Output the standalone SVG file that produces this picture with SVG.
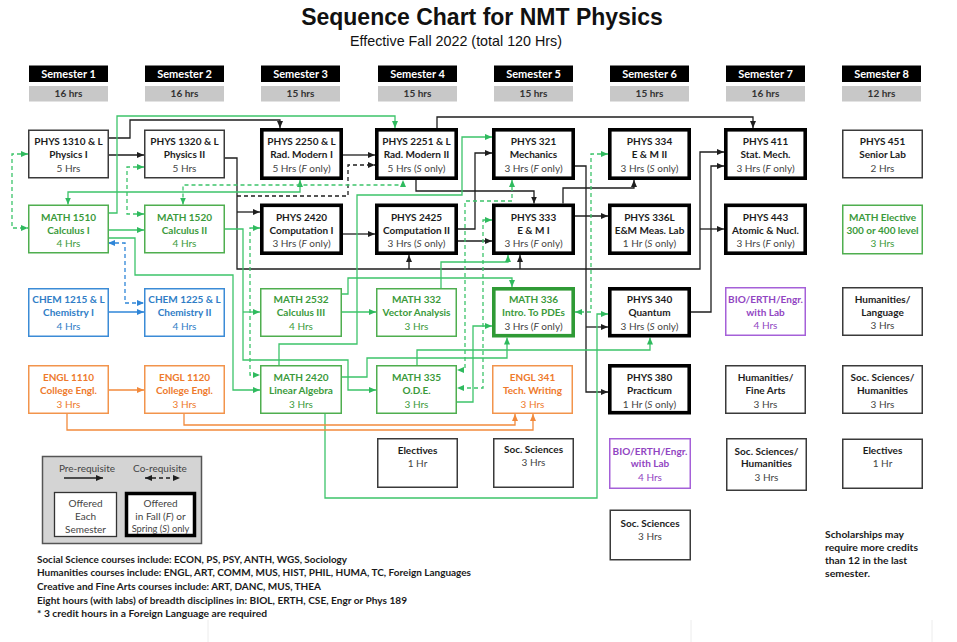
<svg xmlns="http://www.w3.org/2000/svg" width="957" height="642" viewBox="0 0 957 642">
<style>
text{font-family:Lato,"Liberation Sans",Arial,sans-serif;font-size:10px;text-anchor:middle}
.b{font-weight:700}
.k{fill:#1c1c1c}
.h{fill:#444}
.g{fill:#3b9a3b}
.bl{fill:#2f7dc6}
.o{fill:#ee7a2c}
.p{fill:#9145c2}
.i{font-style:italic}
rect.n{fill:#fff;stroke:#3a3a3a;stroke-width:1.5}
rect.x{fill:#fff;stroke:#000;stroke-width:3.6}
rect.gn{stroke:#4fae4f}
rect.bn{stroke:#3b8bd6}
rect.on{stroke:#f2944c}
rect.pn{stroke:#a560d8}
rect.gx{stroke:#2f9a35}
rect.sh{fill:#000}
rect.sg{fill:#c8c8c8}
text.st{fill:#fff;font-weight:700;font-size:11px}
text.sh2{fill:#333;font-weight:700}
.c path{fill:none;stroke-width:1.3}
.k1{stroke:#1e1e1e}
.g1{stroke:#3cc46a}
.b1{stroke:#2f86d8}
.o1{stroke:#f28a3c}
.d{stroke-dasharray:4 3}
.note{text-anchor:start;font-weight:700;fill:#1a1a1a}
</style>
<defs>
<marker id="ak" markerUnits="userSpaceOnUse" markerWidth="7" markerHeight="6" refX="7" refY="3" orient="auto-start-reverse"><path d="M0,0 L7,3 L0,6 z" fill="#1e1e1e"/></marker>
<marker id="ag" markerUnits="userSpaceOnUse" markerWidth="7" markerHeight="6" refX="7" refY="3" orient="auto-start-reverse"><path d="M0,0 L7,3 L0,6 z" fill="#2fba5e"/></marker>
<marker id="ab" markerUnits="userSpaceOnUse" markerWidth="7" markerHeight="6" refX="7" refY="3" orient="auto-start-reverse"><path d="M0,0 L7,3 L0,6 z" fill="#2f86d8"/></marker>
<marker id="ao" markerUnits="userSpaceOnUse" markerWidth="7" markerHeight="6" refX="7" refY="3" orient="auto-start-reverse"><path d="M0,0 L7,3 L0,6 z" fill="#f28a3c"/></marker>
</defs>
<rect width="957" height="642" fill="#fff"/>

<g id="title">
<text x="482" y="25" style="font-family:'Liberation Sans',Arial,sans-serif;font-size:23px;font-weight:700;fill:#111">Sequence Chart for NMT Physics</text>
<text x="456" y="46" style="font-family:'Liberation Sans',Arial,sans-serif;font-size:14.3px;fill:#111">Effective Fall 2022 (total 120 Hrs)</text>
</g>

<g id="semesters">
<rect class="sh" x="29" y="65.5" width="79" height="16.5"/><rect class="sg" x="29" y="86" width="79" height="15.5"/><text class="st" x="68.5" y="77.5">Semester 1</text><text class="sh2" x="68.5" y="97">16 hrs</text>
<rect class="sh" x="145" y="65.5" width="79" height="16.5"/><rect class="sg" x="145" y="86" width="79" height="15.5"/><text class="st" x="184.5" y="77.5">Semester 2</text><text class="sh2" x="184.5" y="97">16 hrs</text>
<rect class="sh" x="261" y="65.5" width="79" height="16.5"/><rect class="sg" x="261" y="86" width="79" height="15.5"/><text class="st" x="300.5" y="77.5">Semester 3</text><text class="sh2" x="300.5" y="97">15 hrs</text>
<rect class="sh" x="378" y="65.5" width="79" height="16.5"/><rect class="sg" x="378" y="86" width="79" height="15.5"/><text class="st" x="417.5" y="77.5">Semester 4</text><text class="sh2" x="417.5" y="97">15 hrs</text>
<rect class="sh" x="494" y="65.5" width="79" height="16.5"/><rect class="sg" x="494" y="86" width="79" height="15.5"/><text class="st" x="533.5" y="77.5">Semester 5</text><text class="sh2" x="533.5" y="97">15 hrs</text>
<rect class="sh" x="610" y="65.5" width="79" height="16.5"/><rect class="sg" x="610" y="86" width="79" height="15.5"/><text class="st" x="649.5" y="77.5">Semester 6</text><text class="sh2" x="649.5" y="97">15 hrs</text>
<rect class="sh" x="726" y="65.5" width="79" height="16.5"/><rect class="sg" x="726" y="86" width="79" height="15.5"/><text class="st" x="765.5" y="77.5">Semester 7</text><text class="sh2" x="765.5" y="97">16 hrs</text>
<rect class="sh" x="842" y="65.5" width="79" height="16.5"/><rect class="sg" x="842" y="86" width="79" height="15.5"/><text class="st" x="881.5" y="77.5">Semester 8</text><text class="sh2" x="881.5" y="97">12 hrs</text>
</g>

<g id="connectors" class="c">
<!-- black prerequisites -->
<path class="k1" d="M108,155 H144" marker-end="url(#ak)"/>
<path class="k1" d="M108,138 H130 V120 H280 V128" marker-end="url(#ak)"/>
<path class="k1" d="M225,158 H237 V269 H700 V152 H724" marker-end="url(#ak)"/>
<path class="k1" d="M237,212 H260" marker-end="url(#ak)"/>
<path class="k1" d="M409,269 V255" marker-end="url(#ak)"/>
<path class="k1" d="M520,269 V255" marker-end="url(#ak)"/>
<path class="k1" d="M700,229 H724" marker-end="url(#ak)"/>
<path class="k1 d" d="M237,196 H348 V165 H375" marker-end="url(#ak)"/>
<path class="k1" d="M343,155 H375" marker-end="url(#ak)"/>
<path class="k1" d="M343,234 H375" marker-end="url(#ak)"/>
<path class="k1" d="M416,180 V191 H534 V203.5" marker-end="url(#ak)"/>
<path class="k1" d="M437,128 V117 H753 V128" marker-end="url(#ak)"/>
<path class="k1" d="M458,229 H475 V153 H492" marker-end="url(#ak)"/>
<path class="k1" d="M458,241 H492" marker-end="url(#ak)"/>
<path class="k1" d="M575,216 H608" marker-end="url(#ak)"/>
<path class="k1" d="M563,203.5 V188 H634 V180" marker-end="url(#ak)"/>
<path class="k1" d="M575,166 H586 V392 H608" marker-end="url(#ak)"/>
<path class="k1" d="M586,327 H608" marker-end="url(#ak)"/>
<path class="k1" d="M691,312 H711 V166 H724" marker-end="url(#ak)"/>
<!-- green prerequisites -->
<path class="g1" d="M108,213 H117 V116 H395 V128" marker-end="url(#ag)"/>
<path class="g1" d="M108,230 H144" marker-end="url(#ag)"/>
<path class="g1" d="M225,229 H243 V360 H348 V390 H376" marker-end="url(#ag)"/>
<path class="g1" d="M243,312 H260" marker-end="url(#ag)"/>
<path class="g1" d="M108,238 H135 V275 H233 V390 H260" marker-end="url(#ag)"/>
<path class="g1" d="M300,180 V192 H68 V204.5" marker-start="url(#ag)" marker-end="url(#ag)"/>
<path class="g1" d="M342,294 H348 V278 H512 V287" marker-end="url(#ag)"/>
<path class="g1" d="M342,312 H376" marker-end="url(#ag)"/>
<path class="g1" d="M279,365 V344 H357 V195 H462 V137 H492" marker-end="url(#ag)"/>
<path class="g1" d="M342,377 H367 V358 H507 V337.5" marker-end="url(#ag)"/>
<path class="g1" d="M417,365 V350 H650 V337.5" marker-end="url(#ag)"/>
<path class="g1" d="M441,288 V262 H508 V255" marker-end="url(#ag)"/>
<path class="g1" d="M457,402 H473 V326 H492" marker-end="url(#ag)"/>
<path class="g1" d="M325,414 V498 H597 V314 H608" marker-end="url(#ag)"/>
<!-- green co-requisites -->
<path class="g1 d" d="M28,154 H12 V228 H28" marker-start="url(#ag)" marker-end="url(#ag)"/>
<path class="g1 d" d="M144,167 H127 V214 H144" marker-start="url(#ag)" marker-end="url(#ag)"/>
<path class="g1 d" d="M183,204.5 V185 H403 V180" marker-start="url(#ag)" marker-end="url(#ag)"/>
<path class="g1 d" d="M260,228 H250 V375 H260" marker-start="url(#ag)" marker-end="url(#ag)"/>
<path class="g1 d" d="M512,180 V201 H465 V370 H457" marker-start="url(#ag)" marker-end="url(#ag)"/>
<path class="g1 d" d="M492,220 H483 V388 H457" marker-start="url(#ag)" marker-end="url(#ag)"/>
<path class="g1 d" d="M608,154 H591 V312 H575" marker-start="url(#ag)" marker-end="url(#ag)"/>
<!-- blue -->
<path class="b1" d="M108,312 H144" marker-end="url(#ab)"/>
<path class="b1 d" d="M108,243 H125 V303 H144" marker-start="url(#ab)" marker-end="url(#ab)"/>
<!-- orange -->
<path class="o1" d="M108,390 H144" marker-end="url(#ao)"/>
<path class="o1" d="M67,414 V430 H533 V414" marker-end="url(#ao)"/>
<path class="o1" d="M184,414 V425 H515 V414" marker-end="url(#ao)"/>
</g>

<!-- Row 1 -->
<g id="phys1310"><rect class="n" x="28.75" y="130.25" width="79.5" height="47.5"/><text class="b k" x="68.5" y="145">PHYS 1310 &amp; L</text><text class="b k" x="68.5" y="158">Physics I</text><text class="h" x="68.5" y="171.5">5 Hrs</text></g>
<g id="phys1320"><rect class="n" x="144.75" y="130.25" width="79.5" height="47.5"/><text class="b k" x="184.5" y="145">PHYS 1320 &amp; L</text><text class="b k" x="184.5" y="158">Physics II</text><text class="h" x="184.5" y="171.5">5 Hrs</text></g>
<g id="phys2250"><rect class="x" x="261.8" y="129.8" width="79.4" height="48.4"/><text class="b k" x="301.5" y="145">PHYS 2250 &amp; L</text><text class="b k" x="301.5" y="158">Rad. Modern I</text><text class="h" x="301.5" y="171.5">5 Hrs (<tspan class="i">F</tspan> only)</text></g>
<g id="phys2251"><rect class="x" x="376.8" y="129.8" width="79.4" height="48.4"/><text class="b k" x="416.5" y="145">PHYS 2251 &amp; L</text><text class="b k" x="416.5" y="158">Rad. Modern II</text><text class="h" x="416.5" y="171.5">5 Hrs (<tspan class="i">S</tspan> only)</text></g>
<g id="phys321"><rect class="x" x="493.8" y="129.8" width="79.4" height="48.4"/><text class="b k" x="533.5" y="145">PHYS 321</text><text class="b k" x="533.5" y="158">Mechanics</text><text class="h" x="533.5" y="171.5">3 Hrs (<tspan class="i">F</tspan> only)</text></g>
<g id="phys334"><rect class="x" x="609.8" y="129.8" width="79.4" height="48.4"/><text class="b k" x="649.5" y="145">PHYS 334</text><text class="b k" x="649.5" y="158">E &amp; M II</text><text class="h" x="649.5" y="171.5">3 Hrs (<tspan class="i">S</tspan> only)</text></g>
<g id="phys411"><rect class="x" x="725.8" y="129.8" width="79.4" height="48.4"/><text class="b k" x="765.5" y="145">PHYS 411</text><text class="b k" x="765.5" y="158">Stat. Mech.</text><text class="h" x="765.5" y="171.5">3 Hrs (<tspan class="i">F</tspan> only)</text></g>
<g id="phys451"><rect class="n" x="842.75" y="130.25" width="79.5" height="47.5"/><text class="b k" x="882.5" y="145">PHYS 451</text><text class="b k" x="882.5" y="158">Senior Lab</text><text class="h" x="882.5" y="171.5">2 Hrs</text></g>

<!-- Row 2 -->
<g id="math1510"><rect class="n gn" x="28.75" y="205.25" width="79.5" height="47.5"/><text class="b g" x="68.5" y="220.5">MATH 1510</text><text class="b g" x="68.5" y="233.5">Calculus I</text><text class="g" x="68.5" y="247">4 Hrs</text></g>
<g id="math1520"><rect class="n gn" x="144.75" y="205.25" width="79.5" height="47.5"/><text class="b g" x="184.5" y="220.5">MATH 1520</text><text class="b g" x="184.5" y="233.5">Calculus II</text><text class="g" x="184.5" y="247">4 Hrs</text></g>
<g id="phys2420"><rect class="x" x="261.8" y="205.3" width="79.4" height="47.9"/><text class="b k" x="301.5" y="220.5">PHYS 2420</text><text class="b k" x="301.5" y="233.5">Computation I</text><text class="h" x="301.5" y="247">3 Hrs (<tspan class="i">F</tspan> only)</text></g>
<g id="phys2425"><rect class="x" x="376.8" y="205.3" width="79.4" height="47.9"/><text class="b k" x="416.5" y="220.5">PHYS 2425</text><text class="b k" x="416.5" y="233.5">Computation II</text><text class="h" x="416.5" y="247">3 Hrs (<tspan class="i">S</tspan> only)</text></g>
<g id="phys333"><rect class="x" x="493.8" y="205.3" width="79.4" height="47.9"/><text class="b k" x="533.5" y="220.5">PHYS 333</text><text class="b k" x="533.5" y="233.5">E &amp; M I</text><text class="h" x="533.5" y="247">3 Hrs (<tspan class="i">F</tspan> only)</text></g>
<g id="phys336l"><rect class="x" x="609.8" y="205.3" width="79.4" height="47.9"/><text class="b k" x="649.5" y="220.5">PHYS 336L</text><text class="b k" x="649.5" y="233.5">E&amp;M Meas. Lab</text><text class="h" x="649.5" y="247">1 Hr (<tspan class="i">S</tspan> only)</text></g>
<g id="phys443"><rect class="x" x="725.8" y="205.3" width="79.4" height="47.9"/><text class="b k" x="765.5" y="220.5">PHYS 443</text><text class="b k" x="765.5" y="233.5">Atomic &amp; Nucl.</text><text class="h" x="765.5" y="247">3 Hrs (<tspan class="i">F</tspan> only)</text></g>
<g id="mathelective"><rect class="n gn" x="842.75" y="205.25" width="79.5" height="48.5"/><text class="b g" x="882.5" y="220.5">MATH Elective</text><text class="b g" x="882.5" y="233.5">300 or 400 level</text><text class="g" x="882.5" y="247">3 Hrs</text></g>

<!-- Row 3 -->
<g id="chem1215"><rect class="n bn" x="28.75" y="288.75" width="79.5" height="47.5"/><text class="b bl" x="68.5" y="303">CHEM 1215 &amp; L</text><text class="b bl" x="68.5" y="316">Chemistry I</text><text class="bl" x="68.5" y="329.5">4 Hrs</text></g>
<g id="chem1225"><rect class="n bn" x="144.75" y="288.75" width="79.5" height="47.5"/><text class="b bl" x="184.5" y="303">CHEM 1225 &amp; L</text><text class="b bl" x="184.5" y="316">Chemistry II</text><text class="bl" x="184.5" y="329.5">4 Hrs</text></g>
<g id="math2532"><rect class="n gn" x="260.75" y="288.75" width="80.5" height="47.5"/><text class="b g" x="301" y="303">MATH 2532</text><text class="b g" x="301" y="316">Calculus III</text><text class="g" x="301" y="329.5">4 Hrs</text></g>
<g id="math332"><rect class="n gn" x="376.75" y="288.75" width="79.5" height="47.5"/><text class="b g" x="416.5" y="303">MATH 332</text><text class="b g" x="416.5" y="316">Vector Analysis</text><text class="g" x="416.5" y="329.5">3 Hrs</text></g>
<g id="math336"><rect class="x gx" x="493.8" y="288.8" width="79.4" height="46.9"/><text class="b g" x="533.5" y="303">MATH 336</text><text class="b g" x="533.5" y="316">Intro. To PDEs</text><text class="h" x="533.5" y="329.5">3 Hrs (<tspan class="i">F</tspan> only)</text></g>
<g id="phys340"><rect class="x" x="609.8" y="288.8" width="79.4" height="46.9"/><text class="b k" x="649.5" y="303">PHYS 340</text><text class="b k" x="649.5" y="316">Quantum</text><text class="h" x="649.5" y="329.5">3 Hrs (<tspan class="i">S</tspan> only)</text></g>
<g id="bio7"><rect class="n pn" x="725.75" y="287.75" width="79.5" height="47.5"/><text class="b p" x="765.5" y="302.5">BIO/ERTH/Engr.</text><text class="b p" x="765.5" y="315.5">with Lab</text><text class="p" x="765.5" y="329">4 Hrs</text></g>
<g id="humlang"><rect class="n" x="842.75" y="287.75" width="79.5" height="47.5"/><text class="b k" x="882.5" y="302.5">Humanities/</text><text class="b k" x="882.5" y="315.5">Language</text><text class="h" x="882.5" y="329">3 Hrs</text></g>

<!-- Row 4 -->
<g id="engl1110"><rect class="n on" x="28.75" y="365.75" width="79.5" height="47.5"/><text class="b o" x="68.5" y="381">ENGL 1110</text><text class="b o" x="68.5" y="394">College Engl.</text><text class="o" x="68.5" y="407.5">3 Hrs</text></g>
<g id="engl1120"><rect class="n on" x="144.75" y="365.75" width="79.5" height="47.5"/><text class="b o" x="184.5" y="381">ENGL 1120</text><text class="b o" x="184.5" y="394">College Engl.</text><text class="o" x="184.5" y="407.5">3 Hrs</text></g>
<g id="math2420"><rect class="n gn" x="260.75" y="365.75" width="80.5" height="47.5"/><text class="b g" x="301" y="381">MATH 2420</text><text class="b g" x="301" y="394">Linear Algebra</text><text class="g" x="301" y="407.5">3 Hrs</text></g>
<g id="math335"><rect class="n gn" x="376.75" y="365.75" width="79.5" height="47.5"/><text class="b g" x="416.5" y="381">MATH 335</text><text class="b g" x="416.5" y="394">O.D.E.</text><text class="g" x="416.5" y="407.5">3 Hrs</text></g>
<g id="engl341"><rect class="n on" x="492.75" y="365.75" width="79.5" height="47.5"/><text class="b o" x="532.5" y="381">ENGL 341</text><text class="b o" x="532.5" y="394">Tech. Writing</text><text class="o" x="532.5" y="407.5">3 Hrs</text></g>
<g id="phys380"><rect class="x" x="609.8" y="365.8" width="79.4" height="46.9"/><text class="b k" x="649.5" y="381">PHYS 380</text><text class="b k" x="649.5" y="394">Practicum</text><text class="h" x="649.5" y="407.5">1 Hr (<tspan class="i">S</tspan> only)</text></g>
<g id="humfine"><rect class="n" x="725.75" y="365.75" width="79.5" height="47.5"/><text class="b k" x="765.5" y="381">Humanities/</text><text class="b k" x="765.5" y="394">Fine Arts</text><text class="h" x="765.5" y="407.5">3 Hrs</text></g>
<g id="sochum8"><rect class="n" x="842.75" y="365.75" width="79.5" height="47.5"/><text class="b k" x="882.5" y="381">Soc. Sciences/</text><text class="b k" x="882.5" y="394">Humanities</text><text class="h" x="882.5" y="407.5">3 Hrs</text></g>

<!-- Row 5 / 6 -->
<g id="electives4"><rect class="n" x="377.75" y="438.75" width="79.5" height="48.5"/><text class="b k" x="417.5" y="453.5">Electives</text><text class="h" x="417.5" y="466.5">1 Hr</text></g>
<g id="socsci5"><rect class="n" x="493.75" y="438.75" width="79.5" height="48.5"/><text class="b k" x="533.5" y="452.5">Soc. Sciences</text><text class="h" x="533.5" y="465.5">3 Hrs</text></g>
<g id="bio6"><rect class="n pn" x="609.75" y="438.75" width="80.5" height="49.5"/><text class="b p" x="650" y="454.5">BIO/ERTH/Engr.</text><text class="b p" x="650" y="467">with Lab</text><text class="p" x="650" y="480.5">4 Hrs</text></g>
<g id="sochum7"><rect class="n" x="726.75" y="438.75" width="79.5" height="51.5"/><text class="b k" x="766.5" y="454.5">Soc. Sciences/</text><text class="b k" x="766.5" y="467">Humanities</text><text class="h" x="766.5" y="480.5">3 Hrs</text></g>
<g id="electives8"><rect class="n" x="842.75" y="439.25" width="79.5" height="49"/><text class="b k" x="882.5" y="453.5">Electives</text><text class="h" x="882.5" y="466.5">1 Hr</text></g>
<g id="socsci6"><rect class="n" x="610.25" y="510.25" width="80" height="49.5"/><text class="b k" x="650" y="526.5">Soc. Sciences</text><text class="h" x="650" y="539.5">3 Hrs</text></g>

<g id="legend">
<rect x="42.5" y="456.5" width="159" height="87" fill="#d4d4d4" stroke="#555" stroke-width="1.5"/>
<text class="h" x="87" y="471.5">Pre-requisite</text>
<text class="h" x="160" y="471.5">Co-requisite</text>
<path d="M64,478 H103" stroke="#1e1e1e" stroke-width="1.3" fill="none" marker-end="url(#ak)"/>
<path d="M145,478 H180" stroke="#1e1e1e" stroke-width="1.3" fill="none" stroke-dasharray="4 3" marker-start="url(#ak)" marker-end="url(#ak)"/>
<rect x="54.5" y="492.5" width="62" height="44" fill="#fff" stroke="#333" stroke-width="1.3"/>
<text class="h" x="85.5" y="506.5">Offered</text><text class="h" x="85.5" y="519.5">Each</text><text class="h" x="85.5" y="532.5">Semester</text>
<rect x="126.5" y="493.5" width="68" height="42" fill="#fff" stroke="#000" stroke-width="3.5"/>
<text class="h" x="160.5" y="506.5">Offered</text><text class="h" x="160.5" y="519.5">in Fall (<tspan class="i">F</tspan>) or</text><text class="h" x="160.5" y="532" style="font-size:9.3px">Spring (<tspan class="i">S</tspan>) only</text>
</g>

<g id="notes">
<text class="note" x="37" y="562.5" textLength="310" lengthAdjust="spacingAndGlyphs">Social Science courses include: ECON, PS, PSY, ANTH, WGS, Sociology</text>
<text class="note" x="37" y="576" textLength="434" lengthAdjust="spacingAndGlyphs">Humanities courses include: ENGL, ART, COMM, MUS, HIST, PHIL, HUMA, TC, Foreign Languages</text>
<text class="note" x="37" y="589.5" textLength="284" lengthAdjust="spacingAndGlyphs">Creative and Fine Arts courses include: ART, DANC, MUS, THEA</text>
<text class="note" x="37" y="603.5" textLength="370" lengthAdjust="spacingAndGlyphs">Eight hours (with labs) of breadth disciplines in: BIOL, ERTH, CSE, Engr or Phys 189</text>
<text class="note" x="37" y="616.5" textLength="230" lengthAdjust="spacingAndGlyphs">* 3 credit hours in a Foreign Language are required</text>
<text class="note" x="825" y="537.5" textLength="79" lengthAdjust="spacingAndGlyphs">Scholarships may</text>
<text class="note" x="825" y="550.5" textLength="93" lengthAdjust="spacingAndGlyphs">require more credits</text>
<text class="note" x="825" y="563.5" textLength="82" lengthAdjust="spacingAndGlyphs">than 12 in the last</text>
<text class="note" x="825" y="576.5" textLength="45" lengthAdjust="spacingAndGlyphs">semester.</text>
</g>

<g id="page-edges" stroke="#ececec" stroke-width="1">
<path d="M208,620 V642 M691,620 V642 M932,620 V642"/>
</g>
</svg>
